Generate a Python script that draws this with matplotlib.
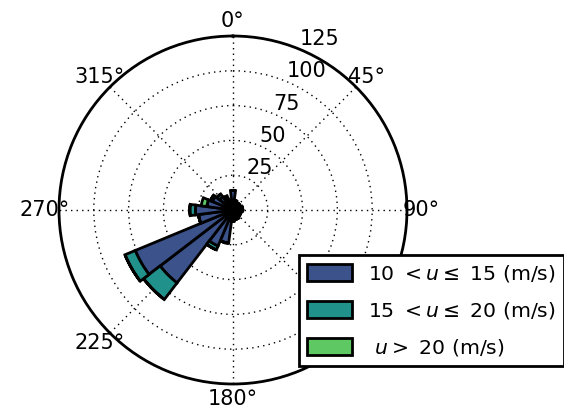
import numpy as np
import matplotlib.pyplot as plt

# wind direction bins (deg, clockwise from north) and counts per speed class
directions = np.arange(0, 360, 15)
speed_10_15 = [14, 7, 6, 6, 6, 7, 7, 6, 6, 6, 7, 7,
               8, 24, 28, 66, 76, 25, 27, 19, 16, 12, 9, 7]
speed_15_20 = [0, 0, 0, 0, 0, 0, 0, 0, 0, 0, 0, 0,
               0, 0, 3, 15, 8, 0, 4, 0, 1.5, 2.5, 2, 0]
speed_20_up = [0, 0, 0, 0, 0, 0, 0, 0, 0, 0, 0, 0,
               0, 0, 0, 0, 0, 0, 0, 4, 0, 0, 0, 0]
labels = [r'10 $<u\leq$ 15 (m/s)', r'15 $<u\leq$ 20 (m/s)', r' $u>$ 20 (m/s)']
colors = ['#3b528b', '#21918c', '#5ec962']
r_ticks = [25, 50, 75, 100, 125]

plt.rcParams['font.size'] = 15

fig = plt.figure(figsize=(5.64, 4.07), dpi=100)
ax = fig.add_axes([0.1046, 0.0565, 0.617, 0.855], projection='polar')
ax.set_theta_zero_location('N')
ax.set_theta_direction(-1)

theta = np.radians(directions)
width = np.radians(15)
bottom = np.zeros(len(directions))
for vals, col, lab in zip([speed_10_15, speed_15_20, speed_20_up], colors, labels):
    vals = np.array(vals, dtype=float)
    ax.bar(theta, vals, width=width, bottom=bottom, color=col,
           edgecolor='black', linewidth=2, label=lab, zorder=2)
    bottom = bottom + vals

ax.set_ylim(0, 125)
ax.set_yticks(r_ticks)
ax.set_rlabel_position(22.5)
for t in ax.yaxis.get_major_ticks():
    t.label1.set_ha('left')
    t.label1.set_va('bottom')
ax.set_xticks(np.radians(np.arange(0, 360, 45)))
ax.tick_params(axis='x', pad=0)
ax.grid(True, color='black', linestyle=(0, (1, 3)), linewidth=1)
ax.spines['polar'].set_linewidth(2)

leg = ax.legend(loc='upper left', bbox_to_anchor=(299 / 564, 1 - 255 / 407),
                bbox_transform=fig.transFigure, fontsize=14.7, fancybox=False,
                handlelength=2.2, handleheight=0.85, labelspacing=0.78,
                borderaxespad=0, framealpha=1)
leg.get_frame().set_edgecolor('black')
leg.get_frame().set_linewidth(2)

fig.savefig('out.png', dpi=100)
